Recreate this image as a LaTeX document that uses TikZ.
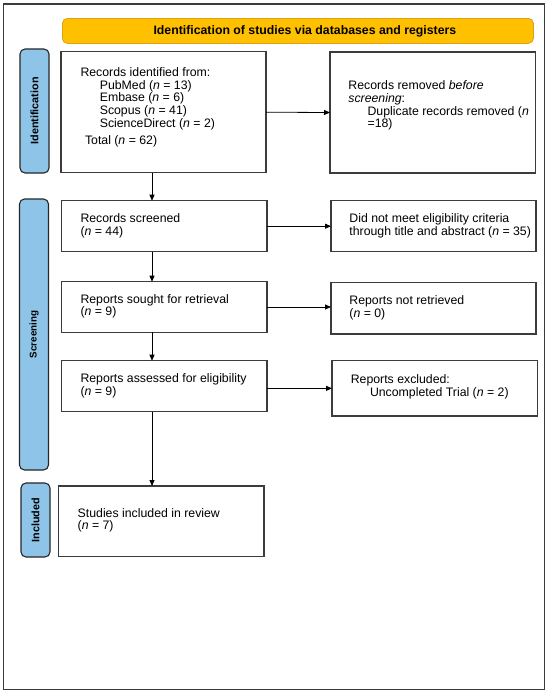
\documentclass[tikz,border=0pt]{standalone}
\usepackage{fontspec}
\setmainfont{Liberation Sans}
\usetikzlibrary{arrows.meta}
\definecolor{tabblue}{RGB}{143,196,233}
\definecolor{headyellow}{RGB}{255,192,0}
\definecolor{headedge}{RGB}{222,160,20}
\definecolor{frameg}{RGB}{60,60,60}
\newcommand{\fsz}{\fontsize{12.3}{12.6}\selectfont}
\tikzset{
  boxnode/.style={draw=frameg, line width=1.4pt, fill=white, rectangle, inner sep=0pt, outer sep=0pt, anchor=north west},
  txtnode/.style={anchor=north west, inner sep=0pt, outer sep=0pt, align=left, font=\fsz},
  tabnode/.style={draw=black!85, line width=1.1pt, fill=tabblue, rounded corners=5pt, inner sep=0pt, outer sep=0pt, anchor=north west, minimum width=29pt},
  tablabel/.style={rotate=90, font=\fontsize{10.8}{12}\selectfont\bfseries, inner sep=0pt},
  flow/.style={line width=0.8pt, draw=black, -{Triangle[length=6pt,width=5pt]}},
}
\begin{document}
\begin{tikzpicture}[x=1pt,y=-1pt]
\useasboundingbox (0,0) rectangle (550,696);
\fill[white] (0,0) rectangle (550,696);
\draw[frameg, line width=1.5pt] (3.5,4) rectangle (544.5,689.5);
% header
\node[draw=headedge, line width=0.8pt, fill=headyellow, rounded corners=5pt, anchor=north west, minimum width=471pt, minimum height=25pt, inner sep=0pt] (head) at (62,18) {};
\node[font=\fsz\bfseries, inner sep=0pt] (headtxt) at ([xshift=7pt]head.center) {Identification of studies via databases and registers};
% tabs
\node[tabnode, minimum height=124pt] (tabid) at (20,49) {};
\node[tablabel] (tabidtxt) at (tabid.center) {Identification};
\node[tabnode, minimum height=271pt] (tabsc) at (19.5,199) {};
\node[tablabel, font=\fontsize{9.8}{11}\selectfont\bfseries] (tabsctxt) at (tabsc.center) {Screening};
\node[tabnode, minimum height=74pt] (tabin) at (21,483) {};
\node[tablabel] (tabintxt) at (tabin.center) {Included};
% boxes
\node[boxnode, minimum width=205pt, minimum height=121pt] (box1) at (61,51.7) {};
\node[boxnode, minimum width=205.5pt, minimum height=121pt] (removed) at (330,52) {};
\node[boxnode, minimum width=205.5pt, minimum height=51pt] (screened) at (61.3,200.7) {};
\node[boxnode, minimum width=205pt, minimum height=51pt] (notmeet) at (331,200.7) {};
\node[boxnode, minimum width=205.5pt, minimum height=50.6pt] (sought) at (61.3,281.7) {};
\node[boxnode, minimum width=205pt, minimum height=51.3pt] (notret) at (331,282.7) {};
\node[boxnode, minimum width=205.5pt, minimum height=51pt] (assessed) at (61.5,360.7) {};
\node[boxnode, minimum width=205.5pt, minimum height=55.3pt] (excl) at (332,360.7) {};
\node[boxnode, minimum width=205.5pt, minimum height=70.7pt] (studies) at (58.5,486) {};
% texts
\node[txtnode] (t1) at (80.5,67.7) {Records identified from:\\
\hspace{19.3pt}PubMed (\textit{n} = 13)\\
\hspace{19.3pt}Embase (\textit{n} = 6)\\
\hspace{19.3pt}Scopus (\textit{n} = 41)\\
\hspace{19.3pt}ScienceDirect (\textit{n} = 2)\\[4.4pt]
\hspace{4.5pt}Total (\textit{n} = 62)};
\node[txtnode] (t2) at (348.4,81) {Records removed \textit{before}\\
\textit{screening}:\\
\hspace{19.2pt}Duplicate records removed (\textit{n}\\
\hspace{19.2pt}=18)};
\node[txtnode] (t3) at (80.5,214) {Records screened\\(\textit{n} = 44)};
\node[txtnode] (t4) at (349.4,214) {Did not meet eligibility criteria\\through title and abstract (\textit{n} = 35)};
\node[txtnode] (t5) at (80.5,294.3) {Reports sought for retrieval\\(\textit{n} = 9)};
\node[txtnode] (t6) at (349.4,295.7) {Reports not retrieved\\(\textit{n} = 0)};
\node[txtnode] (t7) at (80.5,374) {Reports assessed for eligibility\\(\textit{n} = 9)};
\node[txtnode] (t8) at (350.8,375) {Reports excluded:\\\hspace{19.2pt}Uncompleted Trial (\textit{n} = 2)};
\node[txtnode] (t9) at (77.7,508.3) {Studies included in review\\(\textit{n} = 7)};
% connectors
\coordinate (ax) at (152,0);
\draw[flow] (box1.east) -- (removed.west);
\draw[flow] (screened.east) -- (screened.east -| notmeet.west);
\draw[flow] (sought.east) -- (sought.east -| notret.west);
\draw[flow] (excl.west -| assessed.east) -- (excl.west);
\draw[flow] (box1.south -| ax) -- (screened.north -| ax);
\draw[flow] (screened.south -| ax) -- (sought.north -| ax);
\draw[flow] (sought.south -| ax) -- (assessed.north -| ax);
\draw[flow] (assessed.south -| ax) -- (studies.north -| ax);
\end{tikzpicture}
\end{document}
